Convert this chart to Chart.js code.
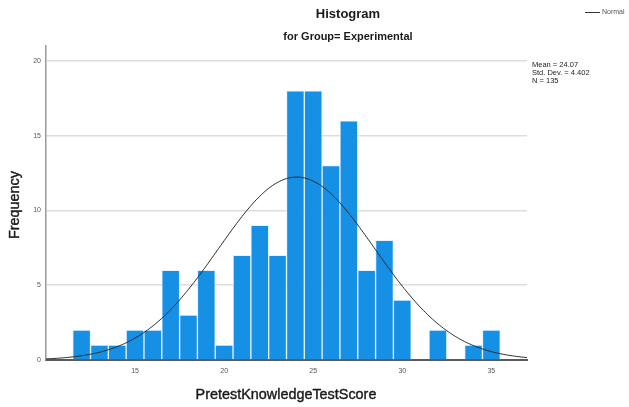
<!DOCTYPE html>
<html>
<head>
<meta charset="utf-8">
<script src="https://cdn.jsdelivr.net/npm/chart.js@4"></script>
<style>
  html, body { margin: 0; padding: 0; background: #ffffff; }
  #wrap { width: 629px; height: 407px; position: relative; }
</style>
</head>
<body>
<div id="wrap"><canvas id="chart" width="629" height="407"></canvas></div>
<script>
// Score bins (integer scores, bin width 1) and their frequencies
const scoreBins = [12, 13, 14, 15, 16, 17, 18, 19, 20, 21, 22, 23, 24, 25, 26, 27, 28, 29, 30, 31, 32, 33, 34, 35];
const frequencies = [2, 1, 1, 2, 2, 6, 3, 6, 1, 7, 9, 7, 18, 18, 13, 16, 6, 8, 4, 0, 2, 0, 1, 2];

// Axis tick labels
const xTickValues = [15, 20, 25, 30, 35];
const yTickValues = [0, 5, 10, 15, 20];

// Summary statistics used for the fitted normal curve
const MEAN = 24.07;
const STD_DEV = 4.402;
const N = 135;
const BIN_WIDTH = 1;

const statLines = ['Mean = ' + MEAN.toFixed(2), 'Std. Dev. = ' + STD_DEV.toFixed(3), 'N = ' + N];

// Expected frequency under the fitted normal distribution
function normalFreq(x) {
  const z = (x - MEAN) / STD_DEV;
  return N * BIN_WIDTH * Math.exp(-0.5 * z * z) / (STD_DEV * Math.sqrt(2 * Math.PI));
}
const X_MIN = 10, X_MAX = 37;
const curvePoints = [];
for (let i = 0; i <= (X_MAX - X_MIN) * 10; i++) {
  const x = X_MIN + i / 10;
  curvePoints.push({ x: x, y: normalFreq(x) });
}

const FONT = "'Liberation Sans', Arial, sans-serif";

// Titles, legend entry, statistics box and axis titles
const annotations = {
  id: 'annotations',
  afterDraw(chart) {
    const ctx = chart.ctx;
    ctx.save();
    ctx.textBaseline = 'middle';

    ctx.fillStyle = '#1a1a1a';
    ctx.textAlign = 'center';
    ctx.font = 'bold 13px ' + FONT;
    ctx.fillText('Histogram', 348, 14);
    ctx.font = 'bold 11px ' + FONT;
    ctx.fillText('for Group= Experimental', 348, 37);

    // legend entry
    ctx.strokeStyle = '#333333';
    ctx.lineWidth = 1;
    ctx.beginPath();
    ctx.moveTo(585, 12.5);
    ctx.lineTo(600, 12.5);
    ctx.stroke();
    ctx.textAlign = 'left';
    ctx.fillStyle = '#555555';
    ctx.font = '7px ' + FONT;
    ctx.fillText('Normal', 602, 12.5);

    // statistics
    ctx.fillStyle = '#222222';
    ctx.font = '7.5px ' + FONT;
    statLines.forEach((t, i) => ctx.fillText(t, 532, 65 + i * 8));

    // axis titles, slightly heavier than regular weight
    ctx.fillStyle = '#1a1a1a';
    ctx.strokeStyle = '#1a1a1a';
    ctx.lineWidth = 0.4;
    ctx.textAlign = 'center';
    ctx.font = '14.4px ' + FONT;
    ctx.fillText('PretestKnowledgeTestScore', 286, 395);
    ctx.strokeText('PretestKnowledgeTestScore', 286, 395);
    ctx.save();
    ctx.translate(15, 205);
    ctx.rotate(-Math.PI / 2);
    ctx.fillText('Frequency', 0, 0);
    ctx.strokeText('Frequency', 0, 0);
    ctx.restore();

    ctx.restore();
  }
};

new Chart(document.getElementById('chart'), {
  data: {
    datasets: [
      {
        type: 'line',
        label: 'Normal',
        data: curvePoints,
        borderColor: '#2a2a2a',
        borderWidth: 1,
        pointRadius: 0,
        tension: 0,
        order: 0
      },
      {
        type: 'bar',
        label: 'Frequency',
        data: scoreBins.map((b, i) => ({ x: b, y: frequencies[i] })),
        backgroundColor: '#1590e5',
        borderColor: 'rgba(225,240,255,0.85)',
        borderWidth: 1,
        barPercentage: 1,
        categoryPercentage: 1,
        order: 1
      }
    ]
  },
  options: {
    responsive: false,
    devicePixelRatio: 1,
    animation: false,
    layout: { padding: { top: 46, right: 102, bottom: 0, left: 0 } },
    plugins: {
      legend: { display: false },
      title: { display: false },
      tooltip: { enabled: false }
    },
    scales: {
      x: {
        type: 'linear',
        offset: false,
        min: X_MIN,
        max: X_MAX,
        afterBuildTicks(scale) { scale.ticks = xTickValues.map(v => ({ value: v })); },
        afterFit(scale) { scale.height = 47; },
        grid: { display: false, drawTicks: false, offset: false },
        border: { display: true, color: '#5a5a5a', width: 2 },
        ticks: { color: '#555555', font: { size: 7, family: FONT }, padding: 7, maxRotation: 0 }
      },
      y: {
        min: 0,
        max: 21,
        afterBuildTicks(scale) { scale.ticks = yTickValues.map(v => ({ value: v })); },
        afterFit(scale) { scale.width = 46; },
        grid: { color: '#dddddd', lineWidth: 1.5, drawTicks: false },
        border: { display: true, color: '#9a9a9a', width: 1.5 },
        ticks: { color: '#555555', font: { size: 7, family: FONT }, padding: 5 }
      }
    }
  },
  plugins: [annotations]
});
</script>
</body>
</html>
